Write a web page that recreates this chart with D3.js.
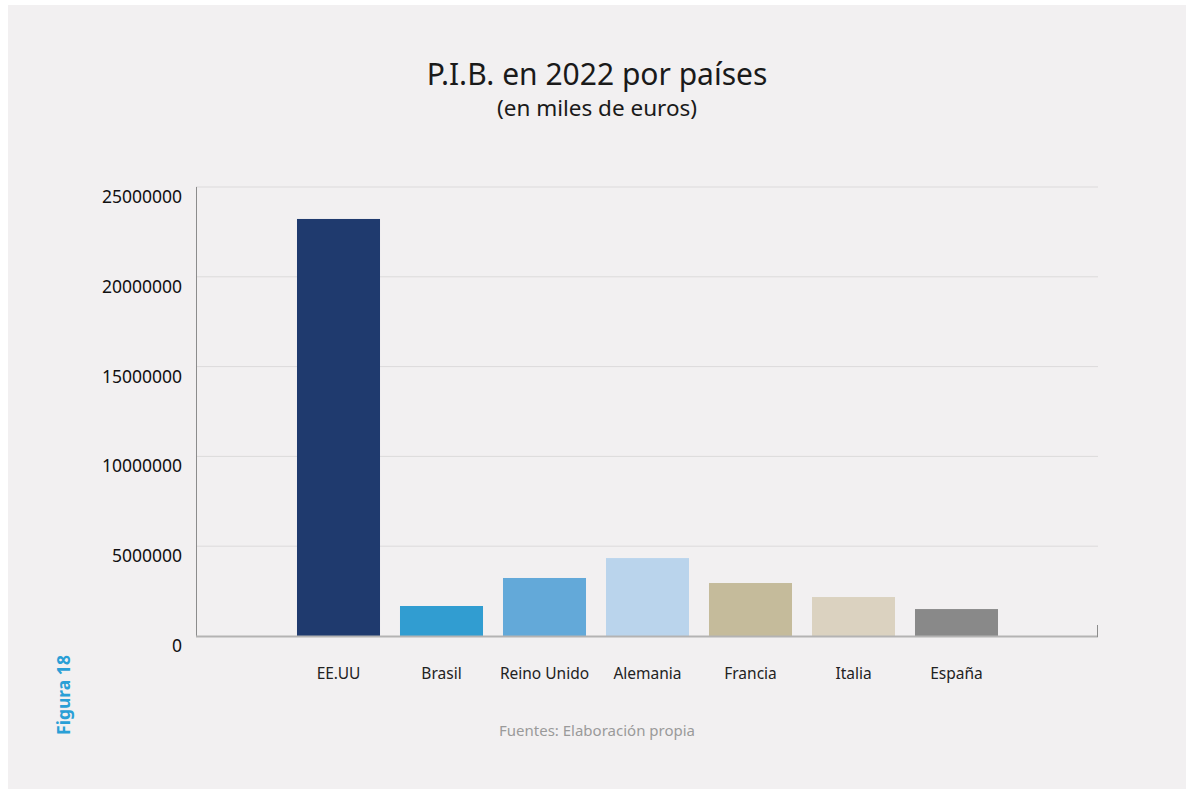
<!DOCTYPE html>
<html lang="es">
<head>
<meta charset="utf-8">
<title>P.I.B. en 2022 por países</title>
<script src="https://cdn.jsdelivr.net/npm/d3@7"></script>
<style>
  body { margin: 0; background: #fff; }
  svg { display: block; font-family: "Noto Sans", sans-serif; }
</style>
</head>
<body>
<script>
// datos (miles de euros)
var paises = ["EE.UU", "Brasil", "Reino Unido", "Alemania", "Francia", "Italia", "España"];
var pib = [23220000, 1670000, 3230000, 4340000, 2950000, 2170000, 1500000];
var colores = ["#1f3a6e", "#319dd1", "#63a9d9", "#bad4ec", "#c5bb9b", "#dbd2c0", "#898989"];
var ticks = [0, 5000000, 10000000, 15000000, 20000000, 25000000];

var width = 1186, height = 789;

var svg = d3.select("body").append("svg")
  .attr("width", width)
  .attr("height", height);

svg.append("rect")
  .attr("x", 8).attr("y", 5)
  .attr("width", width - 8).attr("height", height - 5)
  .attr("fill", "#f2f0f1");

var x0 = 196, x1 = 1098, yTop = 187, yBase = 636;

var y = d3.scaleLinear().domain([0, 25000000]).range([yBase, yTop]);
var x = d3.scaleBand().domain(paises)
  .range([287, 1008])
  .paddingInner(0.194)
  .paddingOuter(0.097);

// rejilla
svg.append("g").selectAll("line")
  .data(ticks.filter(function(d) { return d > 0; }))
  .enter().append("line")
  .attr("x1", x0).attr("x2", x1)
  .attr("y1", function(d) { return y(d); })
  .attr("y2", function(d) { return y(d); })
  .attr("stroke", "#dcdadb")
  .attr("stroke-width", 1);

// barras
svg.append("g").selectAll("rect")
  .data(paises)
  .enter().append("rect")
  .attr("x", function(d) { return x(d); })
  .attr("width", x.bandwidth())
  .attr("y", function(d, i) { return y(pib[i]); })
  .attr("height", function(d, i) { return yBase - y(pib[i]); })
  .attr("fill", function(d, i) { return colores[i]; });

// ejes
svg.append("line")
  .attr("x1", x0 + 0.5).attr("x2", x0 + 0.5)
  .attr("y1", yTop).attr("y2", yBase)
  .attr("stroke", "#8c8c8c");
svg.append("line")
  .attr("x1", x0).attr("x2", x1)
  .attr("y1", yBase + 0.5).attr("y2", yBase + 0.5)
  .attr("stroke", "#b4b3b3").attr("stroke-width", 2);
svg.append("line")
  .attr("x1", x1 - 0.5).attr("x2", x1 - 0.5)
  .attr("y1", yBase - 11).attr("y2", yBase + 1)
  .attr("stroke", "#8c8c8c");

// etiquetas eje y
svg.append("g").selectAll("text")
  .data(ticks)
  .enter().append("text")
  .attr("x", 182)
  .attr("y", function(d) { return y(d) + 16; })
  .attr("text-anchor", "end")
  .attr("font-size", 17.5)
  .attr("fill", "#111")
  .text(function(d) { return d; });

// etiquetas eje x
svg.append("g").selectAll("text")
  .data(paises)
  .enter().append("text")
  .attr("x", function(d) { return x(d) + x.bandwidth() / 2; })
  .attr("y", 679)
  .attr("text-anchor", "middle")
  .attr("font-size", 15.5)
  .attr("fill", "#222")
  .text(function(d) { return d; });

// títulos
svg.append("text")
  .attr("x", 597).attr("y", 85)
  .attr("text-anchor", "middle")
  .attr("font-size", 30)
  .attr("fill", "#1a1a1a")
  .text("P.I.B. en 2022 por países");
svg.append("text")
  .attr("x", 597).attr("y", 116)
  .attr("text-anchor", "middle")
  .attr("font-size", 22.5)
  .attr("fill", "#1a1a1a")
  .text("(en miles de euros)");

svg.append("text")
  .attr("x", 597).attr("y", 736)
  .attr("text-anchor", "middle")
  .attr("font-size", 15)
  .attr("fill", "#9a9a9a")
  .text("Fuentes: Elaboración propia");

svg.append("text")
  .attr("transform", "translate(70,695) rotate(-90)")
  .attr("text-anchor", "middle")
  .attr("font-size", 17.5)
  .attr("font-weight", "bold")
  .attr("fill", "#2a9fd6")
  .text("Figura 18");
</script>
</body>
</html>
